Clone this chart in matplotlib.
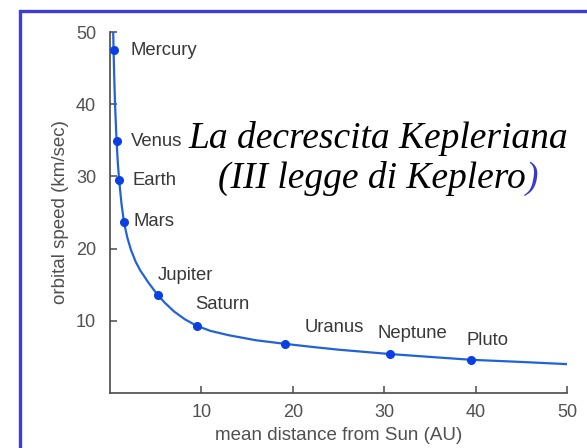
import matplotlib
matplotlib.use("Agg")
import matplotlib.pyplot as plt
from matplotlib.patches import Rectangle

# planets: mean distance (AU) vs orbital speed (km/sec)
planets = ["Mercury", "Venus", "Earth", "Mars", "Jupiter", "Saturn",
           "Uranus", "Neptune", "Pluto"]
dist_au = [0.39, 0.72, 1.0, 1.52, 5.2, 9.5, 19.2, 30.6, 39.5]
speed = [47.5, 34.9, 29.5, 23.7, 13.6, 9.3, 6.8, 5.4, 4.6]

# the smooth curve, points read along it
curve_au = [0.35, 0.39, 0.47, 0.55, 0.72, 0.85, 1.0, 1.25, 1.52, 1.9, 2.3,
            2.8, 3.3, 4.2, 5.2, 6.0, 7.0, 8.2, 9.5, 11, 13, 16, 19.2,
            22, 25, 30.6, 35, 39.5, 45, 50]
curve_speed = [50, 47.5, 43.5, 40, 34.9, 32.0, 29.5, 26.3, 23.7, 21.5, 19.8,
               18.2, 17.0, 15.3, 13.6, 12.5, 11.3, 10.2, 9.3, 8.6, 8.0, 7.3,
               6.8, 6.4, 6.0, 5.4, 5.0, 4.6, 4.3, 4.0]

xticks = [10, 20, 30, 40, 50]
yticks = [10, 20, 30, 40, 50]

# label offsets in pixels (style)
label_offsets = [(17, 0), (14, 0), (13, 0), (10, 0), (0, 19), (-2, 21),
                 (19, 16), (-12, 21), (-5, 19)]

W, H = 587, 448
fig = plt.figure(figsize=(W / 100, H / 100), dpi=100)
fig.patch.set_facecolor("white")

ax = fig.add_axes([110 / W, (H - 393) / H, (567 - 110) / W, (393 - 32) / H])
ax.set_xlim(0, 50)
ax.set_ylim(0, 50)

gray = "#505050"
for s in ["top", "right"]:
    ax.spines[s].set_visible(False)
for s in ["left", "bottom"]:
    ax.spines[s].set_color("#4a4a4a")
    ax.spines[s].set_linewidth(1.2)

ax.plot(curve_au, curve_speed, color="#2262d8", lw=1.6, zorder=2)
ax.plot(dist_au, speed, "o", color="#0a3fe6", ms=5.5, zorder=3)

for name, x, y, off in zip(planets, dist_au, speed, label_offsets):
    ax.annotate(name, (x, y), xytext=off, textcoords="offset pixels",
                ha="left", va="center", fontsize=13.3, color="#383838",
                family="Liberation Sans")

ax.set_xticks(xticks)
ax.set_yticks(yticks)
ax.tick_params(direction="in", length=5, width=1.1, color="#4a4a4a",
               labelsize=13, labelcolor=gray)
ax.tick_params(axis="y", pad=10)
ax.tick_params(axis="x", pad=8)
for lab in ax.get_xticklabels() + ax.get_yticklabels():
    lab.set_family("Liberation Sans")

ax.set_xlabel("mean distance from Sun (AU)", fontsize=13.5, color=gray,
              family="Liberation Sans", labelpad=4)
ax.set_ylabel("orbital speed (km/sec)", fontsize=13.5, color=gray,
              family="Liberation Sans", labelpad=5)

# italic title text
fig.text(378 / W, 1 - 148 / H, "La decrescita Kepleriana", ha="center",
         va="baseline", fontsize=27, style="italic", family="Liberation Serif",
         color="black")
t2 = fig.text(218 / W, 1 - 188 / H, "(III legge di Keplero", ha="left",
              va="baseline", fontsize=27, style="italic",
              family="Liberation Serif", color="black")
paren = fig.text(0, 1 - 188 / H, ")", fontsize=27, style="italic",
                 family="Liberation Serif", color="#3a3ad0", ha="left",
                 va="baseline")
# place the blue paren right after the second line
fig.canvas.draw()
bb = t2.get_window_extent()
paren.set_x(bb.x1 / W)

# blue frame
fig.patches.append(Rectangle((20 / W, -0.2), 1.2, 1 - 11 / H + 0.2,
                             transform=fig.transFigure, fill=False,
                             edgecolor="#3c3cd6", lw=2.4, zorder=10))

fig.savefig("out.png", dpi=100)
